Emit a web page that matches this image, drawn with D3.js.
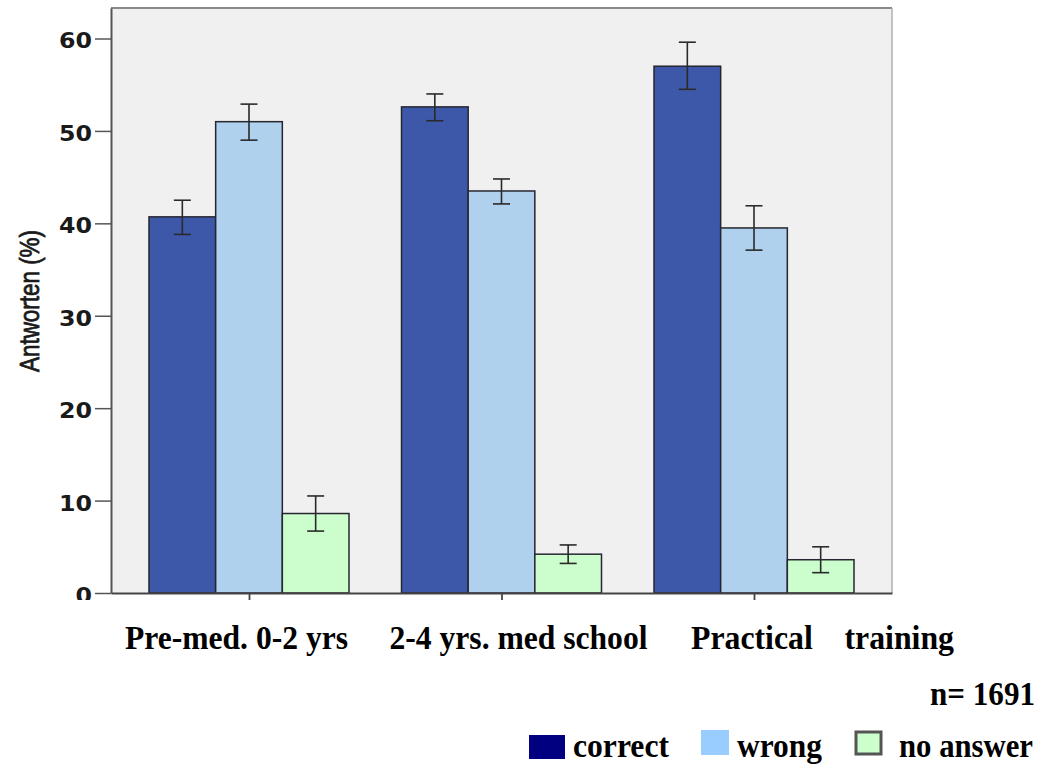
<!DOCTYPE html>
<html>
<head>
<meta charset="utf-8">
<script src="https://cdn.jsdelivr.net/npm/d3@7/dist/d3.min.js"></script>
<style>
  html, body { margin: 0; padding: 0; background: #ffffff; }
  svg { display: block; }
</style>
</head>
<body>
<svg id="chart" width="1053" height="765"></svg>
<script>
// ---------- data ----------
const categories = ["Pre-med. 0-2 yrs", "2-4 yrs. med school", "Practical    training"];
const seriesNames = ["correct", "wrong", "no answer"];
const correctValues = [40.7, 52.6, 57.0];
const correctLow    = [38.8, 51.1, 54.5];
const correctHigh   = [42.5, 54.0, 59.6];
const wrongValues   = [51.0, 43.5, 39.5];
const wrongLow      = [49.0, 42.1, 37.1];
const wrongHigh     = [52.9, 44.8, 41.9];
const noAnswerValues = [8.6, 4.2, 3.6];
const noAnswerLow    = [6.7, 3.2, 2.2];
const noAnswerHigh   = [10.5, 5.2, 5.0];
const yTicks = [0, 10, 20, 30, 40, 50, 60];
const yLabel = "Antworten (%)";
const nLabel = "n= 1691";

// ---------- layout / style ----------
const barColors = ["#3d58a9", "#afd1ee", "#ccfdcc"];
const legendColors = ["#000080", "#99ccff", "#ccffcc"];
const catLabelOffsets = [-12.5, 17, 68.5];
const catLabelLengths = [223, 258, 263];
const serifFont = "'Liberation Serif', 'Times New Roman', serif";
const serifSize = 34;

const series = [
  { name: seriesNames[0], values: correctValues, low: correctLow, high: correctHigh },
  { name: seriesNames[1], values: wrongValues, low: wrongLow, high: wrongHigh },
  { name: seriesNames[2], values: noAnswerValues, low: noAnswerLow, high: noAnswerHigh }
];

const plot = { left: 111, right: 892, top: 8, bottom: 593 };
const svg = d3.select("#chart");

const x = d3.scalePoint().domain(categories).range([plot.left, plot.right]).padding(0.5465);
const xs = d3.scaleBand().domain(seriesNames).range([-100, 100]).padding(0);
const y = d3.scaleLinear().domain([0, 63.3]).range([plot.bottom, plot.top]);

// clip (the original graphic is cut just below the x axis)
svg.append("defs").append("clipPath").attr("id", "clipChart")
  .append("rect").attr("x", 0).attr("y", 0).attr("width", 1053).attr("height", 600);

const chart = svg.append("g").attr("clip-path", "url(#clipChart)");

// plot background
chart.append("rect")
  .attr("x", plot.left).attr("y", plot.top)
  .attr("width", plot.right - plot.left).attr("height", plot.bottom - plot.top)
  .attr("fill", "#f0f0f0");

// frame top & right
chart.append("line").attr("x1", plot.left).attr("x2", plot.right)
  .attr("y1", plot.top).attr("y2", plot.top)
  .attr("stroke", "#8a8a8a").attr("stroke-width", 2);
chart.append("line").attr("x1", plot.right).attr("x2", plot.right)
  .attr("y1", plot.top).attr("y2", plot.bottom)
  .attr("stroke", "#b0b0b0").attr("stroke-width", 1.5);

// bars
const groups = chart.selectAll("g.cat").data(categories).join("g")
  .attr("class", "cat")
  .attr("transform", d => `translate(${x(d)},0)`);

groups.each(function(cat, ci) {
  const g = d3.select(this);
  series.forEach((s, si) => {
    g.append("rect")
      .attr("x", xs(s.name))
      .attr("y", y(s.values[ci]))
      .attr("width", xs.bandwidth())
      .attr("height", y(0) - y(s.values[ci]))
      .attr("fill", barColors[si])
      .attr("stroke", "#262630")
      .attr("stroke-width", 1.5);
  });
  series.forEach((s, si) => {
    const cx = xs(s.name) + xs.bandwidth() / 2;
    const eb = g.append("g").attr("stroke", "#2a2a2a").attr("stroke-width", 1.6);
    eb.append("line").attr("x1", cx).attr("x2", cx)
      .attr("y1", y(s.low[ci])).attr("y2", y(s.high[ci]));
    eb.append("line").attr("x1", cx - 8.5).attr("x2", cx + 8.5)
      .attr("y1", y(s.low[ci])).attr("y2", y(s.low[ci]));
    eb.append("line").attr("x1", cx - 8.5).attr("x2", cx + 8.5)
      .attr("y1", y(s.high[ci])).attr("y2", y(s.high[ci]));
  });
});

// y axis
const yAxis = chart.append("g")
  .attr("transform", `translate(${plot.left},0)`)
  .call(d3.axisLeft(y).tickValues(yTicks).tickSize(16).tickSizeOuter(0).tickPadding(3).tickFormat(d3.format("d")));
yAxis.select(".domain").attr("stroke", "#555").attr("stroke-width", 2);
yAxis.selectAll(".tick line").attr("stroke", "#555").attr("stroke-width", 1.5);
yAxis.selectAll(".tick text")
  .attr("font-family", "'DejaVu Sans', Verdana, sans-serif")
  .attr("font-weight", "bold")
  .attr("font-size", 21)
  .attr("fill", "#1a1a1a")
  .attr("dy", "0.45em")
  .attr("textLength", d => String(d).length * 16.5)
  .attr("lengthAdjust", "spacingAndGlyphs");

// x axis
const xAxis = chart.append("g")
  .attr("transform", `translate(0,${plot.bottom})`)
  .call(d3.axisBottom(x).tickSize(10).tickSizeOuter(0).tickFormat(""));
xAxis.select(".domain").attr("stroke", "#444").attr("stroke-width", 1.8);
xAxis.selectAll(".tick line").attr("stroke", "#444").attr("stroke-width", 1.8);

// y label
svg.append("text")
  .attr("transform", `translate(39,${(230 + 372) / 2}) rotate(-90)`)
  .attr("text-anchor", "middle")
  .attr("font-family", "'Liberation Sans Narrow', 'Liberation Sans', Arial, sans-serif")
  .attr("font-size", 28)
  .attr("fill", "#1a1a1a")
  .attr("stroke", "#1a1a1a")
  .attr("stroke-width", 0.8)
  .attr("textLength", 142)
  .attr("lengthAdjust", "spacingAndGlyphs")
  .text(yLabel);

// category labels
svg.selectAll("text.cat").data(categories).join("text")
  .attr("class", "cat")
  .attr("x", (d, i) => x(d) + catLabelOffsets[i])
  .attr("y", 649)
  .attr("text-anchor", "middle")
  .attr("font-family", serifFont)
  .attr("font-weight", "bold")
  .attr("font-size", serifSize)
  .attr("fill", "#000")
  .attr("textLength", (d, i) => catLabelLengths[i])
  .attr("lengthAdjust", "spacingAndGlyphs")
  .style("white-space", "pre")
  .text(d => d);

// n label
svg.append("text")
  .attr("x", 1035).attr("y", 705)
  .attr("text-anchor", "end")
  .attr("font-family", serifFont)
  .attr("font-weight", "bold")
  .attr("font-size", serifSize)
  .attr("fill", "#000")
  .attr("textLength", 105)
  .attr("lengthAdjust", "spacingAndGlyphs")
  .text(nLabel);

// legend
const legendItems = [
  { name: seriesNames[0], rx: 529, ry: 735, rw: 36, rh: 24, tx: 573, tl: 96 },
  { name: seriesNames[1], rx: 701, ry: 730, rw: 28, rh: 25, tx: 737, tl: 85 },
  { name: seriesNames[2], rx: 856, ry: 732, rw: 25, rh: 22, tx: 899, tl: 134 }
];
const leg = svg.append("g");
legendItems.forEach((it, i) => {
  const r = leg.append("rect")
    .attr("x", it.rx).attr("y", it.ry)
    .attr("width", it.rw).attr("height", it.rh)
    .attr("fill", legendColors[i]);
  if (i === 2) r.attr("stroke", "#555").attr("stroke-width", 3);
  leg.append("text")
    .attr("x", it.tx).attr("y", 757)
    .attr("font-family", serifFont)
    .attr("font-weight", "bold")
    .attr("font-size", serifSize)
    .attr("fill", "#000")
    .attr("textLength", it.tl)
    .attr("lengthAdjust", "spacingAndGlyphs")
    .text(it.name);
});
</script>
</body>
</html>
